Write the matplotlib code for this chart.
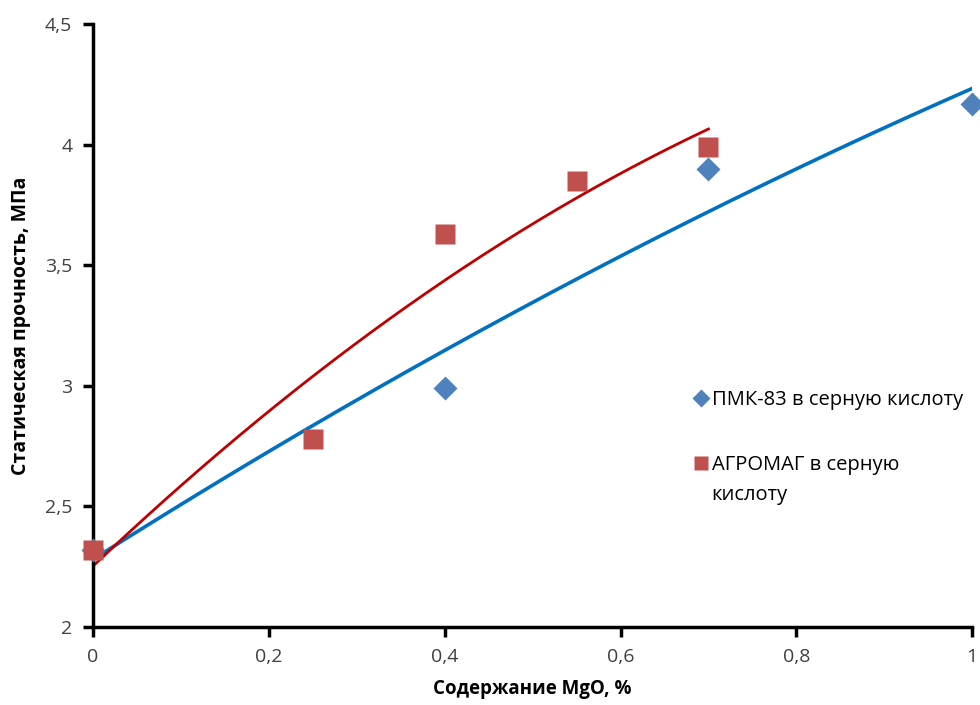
import numpy as np
import matplotlib
matplotlib.use('Agg')
import matplotlib.pyplot as plt

plt.rcParams['font.family'] = ['Open Sans', 'DejaVu Sans']

# ====== Data ======
x_pmk = [0.0, 0.4, 0.7, 1.0]
y_pmk = [2.32, 2.99, 3.90, 4.17]
x_agro = [0.0, 0.25, 0.4, 0.55, 0.7]
y_agro = [2.32, 2.78, 3.63, 3.85, 3.99]
label_pmk = 'ПМК-83 в серную кислоту'
label_agro = 'АГРОМАГ в серную'
label_agro_2 = 'кислоту'
x_ticks = [0, 0.2, 0.4, 0.6, 0.8, 1.0]
x_ticklabels = ['0', '0,2', '0,4', '0,6', '0,8', '1']
y_ticks = [2, 2.5, 3, 3.5, 4, 4.5]
y_ticklabels = ['2', '2,5', '3', '3,5', '4', '4,5']

# ====== Figure ======
fig = plt.figure(figsize=(9.8, 7.05), dpi=100)
ax = fig.add_axes([0.095, 0.111, 0.897, 0.855])

# polynomial (order 2) trendlines, as in Excel
xs = np.linspace(0, max(x_pmk), 200)
ax.plot(xs, np.polyval(np.polyfit(x_pmk, y_pmk, 2), xs), color='#0070C0', lw=2.6, zorder=2)
xs = np.linspace(0, max(x_agro), 200)
ax.plot(xs, np.polyval(np.polyfit(x_agro, y_agro, 2), xs), color='#C00000', lw=2.0, zorder=2)

ax.plot(x_pmk, y_pmk, 'D', color='#4F81BD', ms=12, mec='none', label=label_pmk, zorder=3, clip_on=False)
ax.plot(x_agro, y_agro, 's', color='#C0504D', ms=14, mec='none', label=label_agro, zorder=3, clip_on=False)

ax.set_xlim(0, 1)
ax.set_ylim(2, 4.5)
ax.set_xticks(x_ticks)
ax.set_xticklabels(x_ticklabels)
ax.set_yticks(y_ticks)
ax.set_yticklabels(y_ticklabels)
ax.tick_params(axis='both', direction='out', length=7, width=2.5, labelsize=14,
               labelcolor='#404040', color='black')
ax.tick_params(axis='x', pad=8)
ax.tick_params(axis='y', pad=8)
for s in ['top', 'right']:
    ax.spines[s].set_visible(False)
for s in ['left', 'bottom']:
    ax.spines[s].set_linewidth(2.5)

ax.set_xlabel('Содержание MgO, %', fontsize=13.5, fontweight='bold', labelpad=10)
ax.set_ylabel('Статическая прочность, МПа', fontsize=14, fontweight='bold', labelpad=10)

ax.legend(loc='center left', bbox_to_anchor=(0.664, 0.322), frameon=False, fontsize=14.5,
          markerscale=0.75, handlelength=0.6, handletextpad=0.25, labelspacing=2.25)
# wrapped second line of the second legend entry
ax.text(0.703, 0.218, label_agro_2, transform=ax.transAxes, fontsize=14.5,
        va='center', ha='left')

plt.savefig('out.png', dpi=100)
plt.close()
